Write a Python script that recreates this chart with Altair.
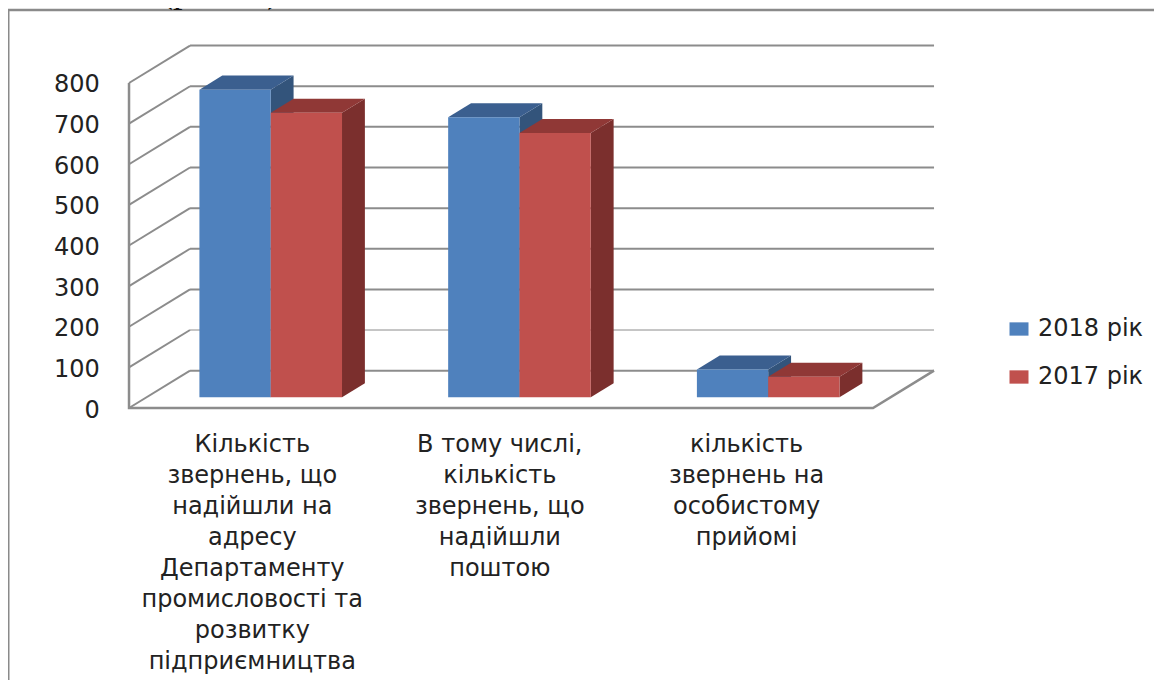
import altair as alt
import pandas as pd

# ---- values ----
categories = [
    "Кількість\nзвернень, що\nнадійшли на\nадресу\nДепартаменту\nпромисловості та\nрозвитку\nпідприємництва",
    "В тому числі,\nкількість\nзвернень, що\nнадійшли\nпоштою",
    "кількість\nзвернень на\nособистому\nприйомі",
]
series_names = ["2018 рік", "2017 рік"]
values_2018 = [757, 689, 68]
values_2017 = [700, 650, 50]
tick_values = [0, 100, 200, 300, 400, 500, 600, 700, 800]

# ---- oblique projection of the 3-D column chart, in data units ----
DEPTH_X = 0.246     # categories per unit of depth
DEPTH_Y = 92.0      # value units per unit of depth
BAR_W = 0.2875
Z0, Z1 = 0.29, 0.665

x_scale = alt.Scale(domain=[-0.488, 4.133], range=[0, 1146], nice=False, zero=False)
y_scale = alt.Scale(domain=[-669.5, 984.6], range=[672, 0], nice=False, zero=False)
X = alt.X("x:Q", scale=x_scale, axis=None)
Y = alt.Y("y:Q", scale=y_scale, axis=None)
GRID = "#8c8c8c"
FRONT = {"2018 рік": "#4f81bd", "2017 рік": "#c0504d"}
TOP = {"2018 рік": "#3b5f8f", "2017 рік": "#903836"}
SIDE = {"2018 рік": "#33547b", "2017 рік": "#7b2f2d"}

fronts, tops, sides = [], [], []
for s_i, (name, vals) in enumerate(zip(series_names, [values_2018, values_2017])):
    for c_i, v in enumerate(vals):
        left = c_i + 0.5 - BAR_W + s_i * BAR_W + 0.003 * c_i
        right = left + BAR_W
        bar = f"{s_i}-{c_i}"
        fronts.append(dict(series=name, x=left + Z0 * DEPTH_X, x2=right + Z0 * DEPTH_X,
                           y=Z0 * DEPTH_Y, y2=v + Z0 * DEPTH_Y))
        for z in (Z0, Z1):
            tops.append(dict(series=name, bar=bar, y=v + z * DEPTH_Y,
                             x=left + z * DEPTH_X, x2=right + z * DEPTH_X))
            sides.append(dict(series=name, bar=bar, x=right + z * DEPTH_X,
                              y=z * DEPTH_Y, y2=v + z * DEPTH_Y))
fronts, tops, sides = map(pd.DataFrame, (fronts, tops, sides))

# ---- walls and floor ----
back = pd.DataFrame([dict(y=t + DEPTH_Y, x=DEPTH_X, x2=3 + DEPTH_X) for t in tick_values if t != 100])
back_thin = pd.DataFrame([dict(y=100 + DEPTH_Y, x=DEPTH_X, x2=3 + DEPTH_X)])
wall_rows = []
for t in tick_values:
    wall_rows += [dict(t=t, x=0, y=t), dict(t=t, x=DEPTH_X, y=t + DEPTH_Y)]
wall = pd.DataFrame(wall_rows)
frame_lines = pd.DataFrame([
    dict(i=0, o=0, x=0, y=800), dict(i=0, o=1, x=0, y=0),
    dict(i=0, o=2, x=3, y=0), dict(i=0, o=3, x=3 + DEPTH_X, y=DEPTH_Y),
])

lines = [
    alt.Chart(back).mark_rule(color=GRID, strokeWidth=2).encode(x=X, x2="x2:Q", y=Y),
    alt.Chart(back_thin).mark_rule(color=GRID, strokeWidth=1).encode(x=X, x2="x2:Q", y=Y),
    alt.Chart(wall).mark_line(color=GRID, strokeWidth=2).encode(x=X, y=Y, detail="t:N"),
    alt.Chart(frame_lines).mark_line(color=GRID, strokeWidth=2.5).encode(
        x=X, y=Y, order="o:Q", detail="i:N"),
]

# ---- columns ----
def bar_layers(name):
    f = fronts[fronts.series == name]
    t = tops[tops.series == name]
    s = sides[sides.series == name]
    return [
        alt.Chart(s).mark_area(color=SIDE[name], interpolate="linear").encode(
            x=X, y=Y, y2="y2:Q", detail="bar:N"),
        alt.Chart(t).mark_area(color=TOP[name], orient="horizontal", interpolate="linear").encode(
            y=Y, x=X, x2="x2:Q", detail="bar:N"),
        alt.Chart(f).mark_rect().encode(
            x=X, x2="x2:Q", y=Y, y2="y2:Q",
            color=alt.Color(
                "series:N",
                scale=alt.Scale(domain=series_names, range=[FRONT[n] for n in series_names]),
                legend=alt.Legend(
                    title=None, orient="none", legendX=999, legendY=309,
                    symbolType="M-1,-0.7H1V0.7H-1Z", symbolSize=361, symbolStrokeWidth=0,
                    symbolOpacity=1, labelFont="DejaVu Sans", labelFontSize=24,
                    labelColor="#222222", labelOffset=7, rowPadding=24, labelLimit=200,
                ),
            ),
        ),
    ]

# ---- text ----
tick_df = pd.DataFrame(dict(y=tick_values, x=[-0.118] * len(tick_values),
                            label=[str(t) for t in tick_values]))
ticks = alt.Chart(tick_df).mark_text(
    align="right", baseline="middle", font="DejaVu Sans", fontSize=24, color="#222222", dy=2.5
).encode(x=X, y=Y, text="label:N")

cat_df = pd.DataFrame(dict(x=[0.497, 1.495, 2.49], y=[-55.0] * 3, label=categories))
cats = alt.Chart(cat_df).mark_text(
    align="center", baseline="top", font="DejaVu Sans", fontSize=24, color="#222222",
    lineBreak="\n", lineHeight=31, dy=2.5,
).encode(x=X, y=Y, text="label:N")

# ---- page furniture: grey frame of the embedded picture and the line of body text above it ----
frame_top = alt.Chart(pd.DataFrame(dict(a=[0]))).mark_rule(color="#8a8a8a", strokeWidth=2.5).encode(
    x=alt.value(0), x2=alt.value(1146), y=alt.value(2))
frame_left = alt.Chart(pd.DataFrame(dict(a=[0]))).mark_rule(color="#8a8a8a", strokeWidth=2).encode(
    x=alt.value(0.5), y=alt.value(2), y2=alt.value(672))
caption = alt.Chart(pd.DataFrame(dict(t=["на 8,5% (рис. 1)."]))).mark_text(
    align="left", baseline="alphabetic", font="Liberation Serif", fontSize=38, color="#111111"
).encode(x=alt.value(17), y=alt.value(-6), text="t:N")

chart = alt.layer(
    frame_top, frame_left, caption, *lines,
    *bar_layers("2018 рік"), *bar_layers("2017 рік"),
    ticks, cats,
).resolve_scale(color="shared").properties(
    width=1146, height=672, padding=0,
    autosize=alt.AutoSizeParams(type="none"),
    background="white",
).configure_view(stroke=None)

chart.save("out.html", embed_options={"renderer": "svg", "actions": False})
